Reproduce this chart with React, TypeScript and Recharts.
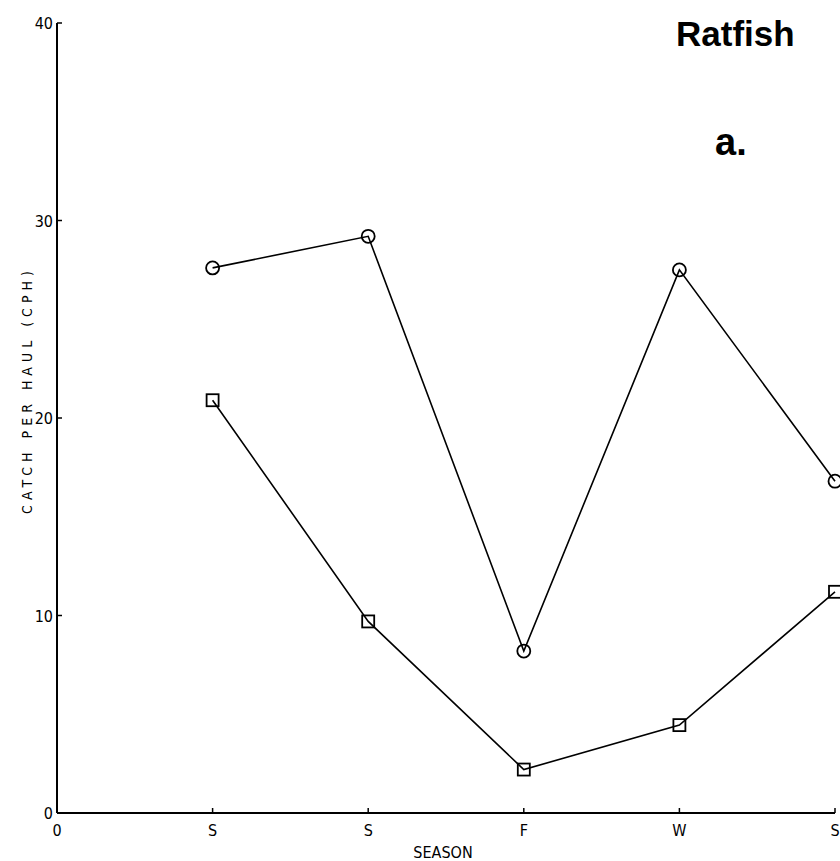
import React from 'react';
import { LineChart, Line, XAxis, YAxis, Label } from 'recharts';

// season positions along the x axis (0 is the origin tick)
const seasonLabels = ['0', 'S', 'S', 'F', 'W', 'S'];
const seasonIndex = [1, 2, 3, 4, 5];
const circleCph = [27.6, 29.2, 8.2, 27.5, 16.8];
const squareCph = [20.9, 9.7, 2.2, 4.45, 11.2];
const xTicks = [0, 1, 2, 3, 4, 5];
const yTicks = [0, 10, 20, 30, 40];

const data = seasonIndex.map((x, i) => ({
  x,
  circle: circleCph[i],
  square: squareCph[i],
}));

const FONT = '"DejaVu Sans Condensed", "DejaVu Sans", sans-serif';

function XTick({ x, y, payload }: any) {
  return (
    <g>
      <line x1={x} x2={x} y1={y} y2={y - 5} stroke="#000" strokeWidth={1.5} />
      <text x={x} y={y + 23} textAnchor="middle" fontFamily={FONT} fontSize={16} fill="#000">
        {seasonLabels[payload.value]}
      </text>
    </g>
  );
}

function YTick({ x, y, payload }: any) {
  return (
    <g>
      <line x1={x} x2={x + 5} y1={y} y2={y} stroke="#000" strokeWidth={1.5} />
      <text x={x - 4} y={y + 6} textAnchor="end" fontFamily={FONT} fontSize={16} fill="#000">
        {payload.value}
      </text>
    </g>
  );
}

function CircleDot({ cx, cy, index }: any) {
  return <circle key={`c-${index}`} cx={cx} cy={cy} r={6.5} fill="none" stroke="#000" strokeWidth={1.8} />;
}

function SquareDot({ cx, cy, index }: any) {
  return (
    <rect key={`s-${index}`} x={cx - 6} y={cy - 6} width={12} height={12} fill="none" stroke="#000" strokeWidth={1.8} />
  );
}

export default function App() {
  return (
    <div style={{ position: 'absolute', left: 0, top: 0, width: 840, height: 861, overflow: 'hidden', background: '#fff' }}>
      <LineChart width={840} height={861} data={data} margin={{ top: 23, right: 5, bottom: 0, left: 0 }}>
        <XAxis
          type="number"
          dataKey="x"
          domain={[0, 5]}
          ticks={xTicks}
          interval={0}
          height={48}
          tickSize={0}
          tickMargin={0}
          tickLine={false}
          axisLine={{ stroke: '#000', strokeWidth: 2 }}
          tick={<XTick />}
        >
          <Label
            content={() => (
              <text x={443} y={858} textAnchor="middle" fontFamily={FONT} fontSize={16} fill="#000">
                SEASON
              </text>
            )}
          />
        </XAxis>
        <YAxis
          type="number"
          domain={[0, 40]}
          ticks={yTicks}
          interval={0}
          width={57}
          tickSize={0}
          tickMargin={0}
          tickLine={false}
          axisLine={{ stroke: '#000', strokeWidth: 2 }}
          tick={<YTick />}
        >
          <Label
            content={() => (
              <text
                x={32}
                y={390}
                transform="rotate(-90 32 390)"
                textAnchor="middle"
                fontFamily={FONT}
                fontSize={14}
                letterSpacing={5}
                fill="#000"
              >
                CATCH PER HAUL (CPH)
              </text>
            )}
          />
        </YAxis>
        <Line
          type="linear"
          dataKey="circle"
          stroke="#000"
          strokeWidth={1.6}
          dot={<CircleDot />}
          activeDot={false}
          isAnimationActive={false}
        />
        <Line
          type="linear"
          dataKey="square"
          stroke="#000"
          strokeWidth={1.6}
          dot={<SquareDot />}
          activeDot={false}
          isAnimationActive={false}
        />
      </LineChart>
      <div
        style={{
          position: 'absolute',
          left: 676,
          top: 16,
          fontFamily: '"Liberation Sans", Arial, sans-serif',
          fontWeight: 'bold',
          fontSize: 35,
          lineHeight: 1,
          color: '#000',
        }}
      >
        Ratfish
      </div>
      <div
        style={{
          position: 'absolute',
          left: 715,
          top: 123,
          fontFamily: '"Liberation Sans", Arial, sans-serif',
          fontWeight: 'bold',
          fontSize: 38,
          lineHeight: 1,
          color: '#000',
        }}
      >
        a.
      </div>
    </div>
  );
}
